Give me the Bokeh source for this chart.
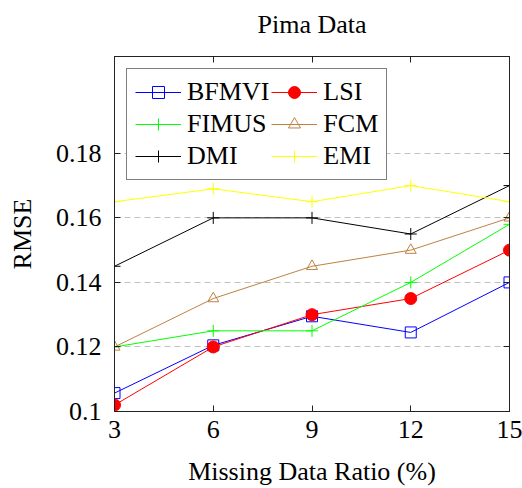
from bokeh.plotting import figure
from bokeh.models import Range1d, LinearAxis, FixedTicker
from bokeh.embed import file_html
from bokeh.resources import INLINE

missing_ratio = [3, 6, 9, 12, 15]
bfmvi = [0.1057, 0.1205, 0.1295, 0.1245, 0.140]
lsi = [0.1020, 0.1200, 0.1300, 0.1350, 0.150]
fimus = [0.120, 0.125, 0.125, 0.140, 0.158]
fcm = [0.120, 0.135, 0.145, 0.150, 0.160]
dmi = [0.145, 0.160, 0.160, 0.155, 0.170]
emi = [0.165, 0.169, 0.165, 0.170, 0.165]

x_ticks = [3, 6, 9, 12, 15]
y_ticks = [0.1, 0.12, 0.14, 0.16, 0.18]
y_tick_labels = ["0.1", "0.12", "0.14", "0.16", "0.18"]
title_text = "Pima Data"

FONT = "Liberation Serif"
FS = "26px"

p = figure(width=522, height=488, output_backend="svg", toolbar_location=None,
           x_range=Range1d(3, 15), y_range=Range1d(0.1, 0.21),
           min_border_left=114, min_border_right=13,
           min_border_top=56, min_border_bottom=74)

p.xgrid.visible = False
p.ygrid.ticker = FixedTicker(ticks=y_ticks[1:])
p.ygrid.grid_line_color = "#c0c0c0"
p.ygrid.grid_line_dash = "6 4"
p.ygrid.grid_line_width = 1
p.outline_line_color = "black"

def style_axis(ax, fs=FS):
    ax.major_tick_in = 6
    ax.major_tick_out = 0
    ax.minor_tick_in = 0
    ax.minor_tick_out = 0
    ax.axis_line_color = "#222222"
    ax.major_tick_line_color = "#222222"
    ax.major_label_text_font = FONT
    ax.major_label_text_font_size = fs
    ax.major_label_text_color = "black"
    ax.axis_label_text_font = FONT
    ax.axis_label_text_font_size = FS
    ax.axis_label_text_font_style = "normal"
    ax.axis_label_text_color = "black"

p.xaxis.ticker = FixedTicker(ticks=x_ticks)
p.yaxis.ticker = FixedTicker(ticks=y_ticks)
p.yaxis.major_label_overrides = {t: l for t, l in zip(y_ticks, y_tick_labels)}
style_axis(p.xaxis[0])
style_axis(p.yaxis[0])
p.xaxis.axis_label = "Missing Data Ratio (%)"
p.yaxis.axis_label = "RMSE"
p.xaxis.major_label_standoff = 9
p.yaxis.major_label_standoff = 13
p.xaxis.axis_label_standoff = 16
p.yaxis.axis_label_standoff = 16

# top axis carries the chart title as its axis label
top = LinearAxis(ticker=FixedTicker(ticks=x_ticks))
right = LinearAxis(ticker=FixedTicker(ticks=y_ticks))
style_axis(top, fs="1px")
style_axis(right, fs="1px")
top.major_label_overrides = {t: "" for t in x_ticks}
right.major_label_overrides = {t: "" for t in y_ticks}
top.major_label_standoff = 0
right.major_label_standoff = 0
top.axis_label = title_text
top.axis_label_standoff = 18
p.add_layout(top, "above")
p.add_layout(right, "right")

series = [
    ("BFMVI", bfmvi, "#0000ff", "square", None, 11),
    ("LSI", lsi, "#ff0000", "circle", "#ff0000", 12),
    ("FIMUS", fimus, "#00ff00", "cross", None, 12),
    ("FCM", fcm, "#bf8040", "triangle", None, 11),
    ("DMI", dmi, "#000000", "cross", None, 12),
    ("EMI", emi, "#ffff00", "cross", None, 12),
]
for name, ys, color, marker, fill, size in series:
    p.line(missing_ratio, ys, line_color=color, line_width=1, legend_label=name)
    p.scatter(missing_ratio, ys, marker=marker, size=size, line_color=color,
              fill_color=fill, line_width=1, legend_label=name)

lg = p.legend[0]
# legend fills column-first; reorder so rows read BFMVI LSI / FIMUS FCM / DMI EMI
items = {it.label.value: it for it in lg.items}
lg.items = [items[n] for n in ["BFMVI", "FIMUS", "DMI", "LSI", "FCM", "EMI"]]
lg.ncols = 2
lg.location = "top_left"
lg.margin = 12
lg.padding = 8
lg.spacing = 2
lg.glyph_width = 46
lg.glyph_height = 30
lg.label_height = 30
lg.label_standoff = 6
lg.label_text_font = FONT
lg.label_text_font_size = FS
lg.label_text_color = "black"
lg.border_line_color = "black"
lg.border_line_width = 1
lg.background_fill_alpha = 1

open("out.html", "w").write(file_html(p, INLINE))
